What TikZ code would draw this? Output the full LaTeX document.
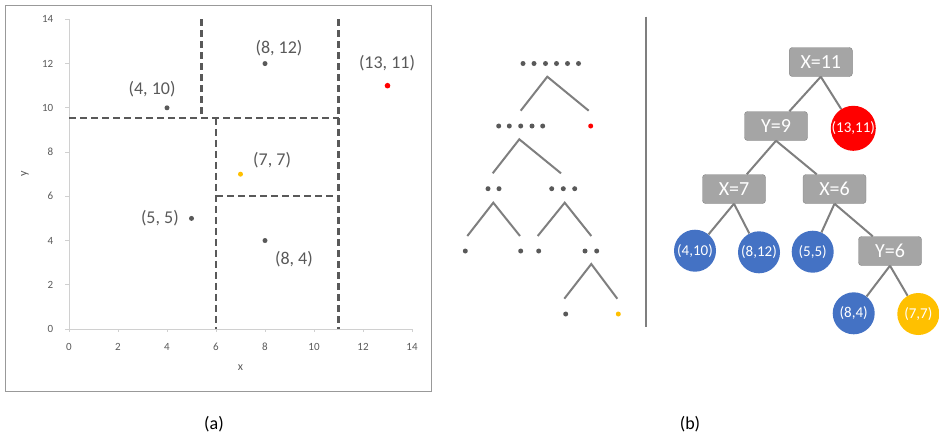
\documentclass[tikz,border=0pt]{standalone}
\usepackage{fontspec}
\setmainfont{Carlito}
\definecolor{darkgray}{HTML}{595959}
\definecolor{midgray}{HTML}{7F7F7F}
\definecolor{axisgray}{HTML}{D0D0D0}
\definecolor{boxgray}{HTML}{A5A5A5}
\definecolor{ptblue}{HTML}{4472C4}
\definecolor{ptred}{HTML}{FF0000}
\definecolor{ptyellow}{HTML}{FFC000}
\tikzset{
  split/.style={draw=darkgray, line width=2.4pt, dash pattern=on 7pt off 4pt},
  ptlabel/.style={font=\fontsize{18}{20}\selectfont, text=darkgray},
  ticklabel/.style={font=\fontsize{11}{12}\selectfont, text=darkgray},
  branch/.style={draw=midgray, line width=2pt},
  cut/.style={draw=boxgray!80!black, fill=boxgray, rounded corners=3pt, text=white,
    minimum width=63pt, minimum height=29pt, inner sep=0pt, font=\fontsize{20}{22}\selectfont},
  leaf/.style={circle, fill=#1, text=white, minimum size=42pt, inner sep=0pt,
    font=\fontsize{15}{17}\selectfont},
  edge/.style={draw=midgray, line width=2pt}
}
\begin{document}
\begin{tikzpicture}[x=1pt, y=-1pt]
  \useasboundingbox (0,0) rectangle (939,440);
  % (a) plane
  \draw[draw=midgray!80, line width=1pt] (5,5) rectangle (431,391);
  \begin{scope}[shift={(69,329)}, x=24.5pt, y=22.12pt]
    \draw[axisgray, line width=0.8pt] (-0.15,14) -- (0,14) -- (0,0) -- (14,0) -- (14,-0.15);
    \foreach \t in {0,2,...,12} {
      \draw[axisgray, line width=0.8pt] (-0.15,\t) -- (0,\t);
      \draw[axisgray, line width=0.8pt] (\t,0) -- (\t,-0.15);
    }
    \foreach \t in {0,2,...,14} {
      \node[ticklabel, anchor=east] at (-0.5,\t) {\t};
      \node[ticklabel] at (\t,-0.82) {\t};
    }
    \node[ticklabel, font=\fontsize{12}{14}\selectfont] (xtitle) at (7.0,-1.75) {x};
    \node[ticklabel, font=\fontsize{12}{14}\selectfont, rotate=90] (ytitle) at (-1.8,7.0) {y};
    % splitting lines
    \draw[split] (5.4,14) -- (5.4,9.55);
    \draw[split] (0,9.55) -- (11,9.55);
    \draw[split] (11,14) -- (11,0);
    \draw[split] (6,9.55) -- (6,0);
    \draw[split] (6,6) -- (11,6);
    % points
    \fill[darkgray] (4,10) circle (2.5pt);
    \fill[darkgray] (8,12) circle (2.5pt);
    \fill[darkgray] (5,5) circle (2.5pt);
    \fill[darkgray] (8,4) circle (2.5pt);
    \fill[ptyellow] (7,7) circle (2.5pt);
    \fill[ptred] (13,11) circle (2.8pt);
    \node[ptlabel] (l812) at (8.57,12.7) {(8, 12)};
    \node[ptlabel] (l410) at (3.39,10.85) {(4, 10)};
    \node[ptlabel] (l1311) at (12.98,12.03) {(13, 11)};
    \node[ptlabel] (l77) at (8.29,7.64) {(7, 7)};
    \node[ptlabel] (l55) at (3.71,5.02) {(5, 5)};
    \node[ptlabel] (l84) at (9.18,3.16) {(8, 4)};
  \end{scope}
  \node[ptlabel, text=black] (capa) at (214,424) {(a)};

  % splitting of the point set
  \foreach \x in {523,534,545.5,556.5,567.5,578.5}
    \fill[darkgray] (\x,63.5) circle (2.5);
  \draw[branch] (520.7,110.7) -- (547.3,76.7) -- (588.7,110.7);
  \foreach \x in {498.7,509.3,520.7,532,542.7}
    \fill[darkgray] (\x,126) circle (2.5);
  \fill[ptred] (590.7,126) circle (2.5);
  \draw[branch] (492.7,173.3) -- (519.3,139.3) -- (561,173.3);
  \foreach \x in {488,499,551.7,563.3,574.7}
    \fill[darkgray] (\x,188.7) circle (2.5);
  \draw[branch] (467.3,236) -- (493.3,202.7) -- (520,236);
  \draw[branch] (537.7,236) -- (564.7,202.7) -- (591.3,236);
  \foreach \x in {465.3,520.7,538.7,585,596.7}
    \fill[darkgray] (\x,251) circle (2.5);
  \draw[branch] (564.3,298.7) -- (591.3,264) -- (617.3,298.7);
  \fill[darkgray] (565.7,314) circle (2.5);
  \fill[ptyellow] (618.3,314) circle (2.5);

  \draw[midgray, line width=2pt] (646,16.5) -- (646,326.5);

  % (b) kd-tree
  \node[cut] (x11) at (820.8,62) {X=11};
  \node[cut] (y9) at (776,126) {Y=9};
  \node[leaf=ptred] (p1311) at (853.3,128.3) {(13,11)};
  \node[cut] (x7) at (734,189) {X=7};
  \node[cut] (x6) at (834.5,189) {X=6};
  \node[leaf=ptblue] (p410) at (695,250.7) {(4,10)};
  \node[leaf=ptblue] (p812) at (759,252.3) {(8,12)};
  \node[leaf=ptblue] (p55) at (812.7,251.7) {(5,5)};
  \node[cut] (y6) at (890,251) {Y=6};
  \node[leaf=ptblue] (p84) at (853.7,313.3) {(8,4)};
  \node[leaf=ptyellow] (p77) at (918.3,314) {(7,7)};
  \draw[edge] (x11.south) -- (y9);
  \draw[edge] (x11.south) -- (p1311);
  \draw[edge] (y9.south) -- (x7);
  \draw[edge] (y9.south) -- (x6);
  \draw[edge] (x7.south) -- (p410);
  \draw[edge] (x7.south) -- (p812);
  \draw[edge] (x6.south) -- (p55);
  \draw[edge] (x6.south) -- (y6);
  \draw[edge] (y6.south) -- (p84);
  \draw[edge] (y6.south) -- (p77);
  \node[ptlabel, text=black] (capb) at (690,424) {(b)};
\end{tikzpicture}
\end{document}
